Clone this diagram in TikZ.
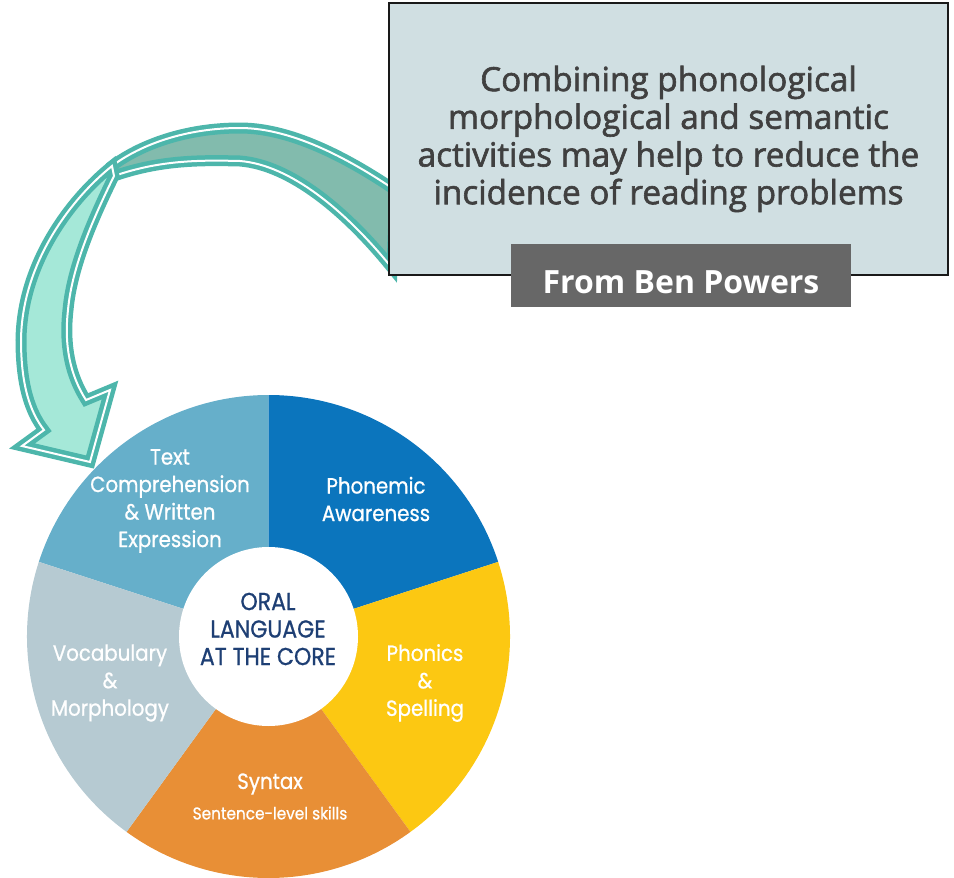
\documentclass[tikz,border=0pt]{standalone}
\usepackage{fontspec}
\usepackage{xcolor}
\usepackage{tikz}
\usetikzlibrary{positioning}

\newfontfamily\notefont[FakeBold=1.8]{Open Sans}
\newfontfamily\creditfont{Open Sans}
\newfontfamily\wheelfont[FakeStretch=0.9,FakeBold=0.8]{Poppins}

\definecolor{notebg}{HTML}{D0DFE2}
\definecolor{notetxt}{HTML}{404040}
\definecolor{creditbg}{HTML}{676767}
\definecolor{arrline}{HTML}{4DB6AB}
\definecolor{arrdark}{HTML}{82BBAD}
\definecolor{arrlight}{HTML}{A5E8D8}
\definecolor{compblue}{HTML}{66AFCA}
\definecolor{phonblue}{HTML}{0B75BD}
\definecolor{spellyel}{HTML}{FCC812}
\definecolor{synorange}{HTML}{E88F36}
\definecolor{vocgray}{HTML}{B6CAD2}
\definecolor{corenavy}{HTML}{1E3F74}

\begin{document}
\begin{tikzpicture}[x=1pt,y=1pt,
  note/.style={draw=black!90,line width=1.5pt,fill=notebg,minimum width=559pt,
              minimum height=272pt,align=center,text=notetxt,inner sep=0pt,
              font=\notefont\fontsize{33.3}{37.7}\selectfont},
  credit/.style={fill=creditbg,minimum width=340pt,minimum height=63pt,
              text height=35pt,text depth=0pt,inner sep=0pt,
              text=white,font=\creditfont\bfseries\fontsize{32}{36}\selectfont},
  ribbon/.style={draw=arrline,double=white,double distance=2pt,
              line width=4.5pt,line join=miter},
  seglabel/.style={align=center,text=white,inner sep=0pt,
              font=\wheelfont\fontsize{22}{27.5}\selectfont},
  corelabel/.style={seglabel,text=corenavy,font=\wheelfont\fontsize{24.5}{27.5}\selectfont}]
  \useasboundingbox (0,0) rectangle (954,-878);

  % the wheel
  \coordinate (hub) at (268.5,-636.5);
  \foreach \a/\col in {90/compblue,18/phonblue,-54/spellyel,-126/synorange,162/vocgray}
    \fill[\col] (hub) -- ++(\a:241.5) arc[start angle=\a,delta angle=72,radius=241.5] -- cycle;
  \fill[white] (hub) circle (89.5);

  \node[corelabel] (core) at (268,-629) {ORAL\\LANGUAGE\\AT THE CORE};
  \node[seglabel] (comp) at (170,-501) {Text\\Comprehension\\\& Written\\Expression};
  \node[seglabel] (phon) at (376,-499) {Phonemic\\Awareness};
  \node[seglabel] (spell) at (425,-683) {Phonics\\\&\\Spelling};
  \node[seglabel] (voc) at (110,-683) {Vocabulary\\\&\\Morphology};
  \node[seglabel] (syn) at (270,-784) {Syntax};
  \node[seglabel,font=\wheelfont\fontsize{17}{20}\selectfont] (sent) at (270,-813) {Sentence-level skills};

  % curved ribbon arrow, back half then front half
  \path[ribbon,fill=arrdark] (395,-190) .. controls (355,-163) and (295,-128) .. (240,-128)
    .. controls (185,-128) and (140,-145) .. (112,-166) -- (114,-176)
    .. controls (160,-160) and (200,-160) .. (240,-161)
    .. controls (290,-165) and (345,-210) .. (392,-268) -- cycle;
  \path[ribbon,fill=arrlight] (112,-166) .. controls (72,-198) and (22,-262) .. (21,-340)
    .. controls (21,-385) and (30,-412) .. (44,-430)
    -- (22,-446) -- (90,-462) -- (110,-390) -- (86,-400)
    .. controls (70,-375) and (64,-345) .. (68,-310)
    .. controls (72,-265) and (95,-215) .. (114,-176) -- cycle;

  % quote box
  \node[note] (quote) at (668.5,-139) {Combining phonological\\morphological and semantic\\activities may help to reduce the\\incidence of reading problems};
  \node[credit] (source) at (681,-275.5) {From Ben Powers};
\end{tikzpicture}
\end{document}
